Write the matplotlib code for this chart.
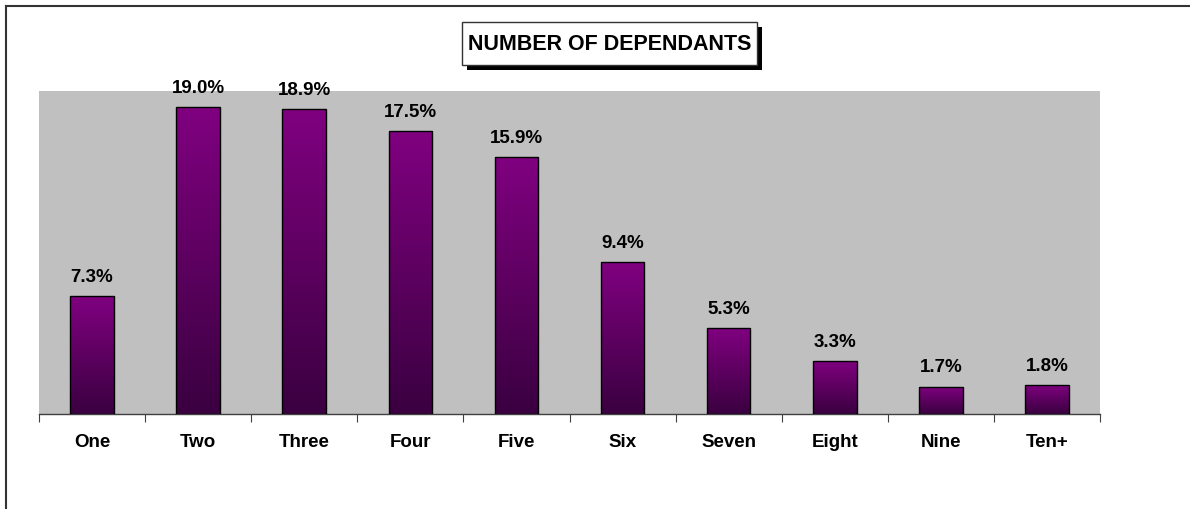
import numpy as np
import matplotlib.pyplot as plt
from matplotlib.colors import LinearSegmentedColormap
from matplotlib.patches import Rectangle
from matplotlib.lines import Line2D

plt.rcParams['font.family'] = ['Liberation Sans', 'DejaVu Sans']

categories = ["One", "Two", "Three", "Four", "Five", "Six", "Seven", "Eight", "Nine", "Ten+"]
percentages = [7.3, 19.0, 18.9, 17.5, 15.9, 9.4, 5.3, 3.3, 1.7, 1.8]
title_text = "NUMBER OF DEPENDANTS"

W, H = 1190, 510


def fx(px):
    return px / W


def fy(py):
    return 1 - py / H


fig = plt.figure(figsize=(11.9, 5.1), dpi=100)
ax = fig.add_axes([fx(39), fy(415), (1100 - 39) / W, (415 - 92) / H])
ax.set_facecolor("#C0C0C0")

# gradient from purple at top to dark plum at bottom
grad_cmap = LinearSegmentedColormap.from_list("plum", ["#3a0040", "#800080"])
gradient = np.linspace(0, 1, 256).reshape(-1, 1)

x = np.arange(len(categories))
bars = ax.bar(x, percentages, width=0.41, color="none", edgecolor="black", linewidth=1.0, zorder=3)
for bar in bars:
    bx, by = bar.get_x(), bar.get_y()
    bw, bh = bar.get_width(), bar.get_height()
    img = ax.imshow(gradient, cmap=grad_cmap, aspect="auto", origin="lower",
                    extent=[bx, bx + bw, by, by + bh], zorder=2)
    clip = Rectangle((bx, by), bw, bh, transform=ax.transData)
    img.set_clip_path(clip)

for xi, val in zip(x, percentages):
    ax.annotate(f"{val:.1f}%", (xi, val), xytext=(0, 8), textcoords="offset points",
                ha="center", va="bottom", fontsize=13.5, fontweight="bold")

ax.set_xlim(-0.5, len(categories) - 0.5)
ax.set_ylim(0, 20)

for side in ["top", "right", "left"]:
    ax.spines[side].set_visible(False)
ax.spines["bottom"].set_color("#404040")
ax.spines["bottom"].set_linewidth(1.0)

ax.set_yticks([])
ax.set_xticks(np.arange(-0.5, len(categories), 1.0))
ax.set_xticklabels([])
ax.tick_params(axis="x", which="major", direction="out", length=6, color="#404040")
ax.set_xticks(x, minor=True)
ax.set_xticklabels(categories, minor=True, fontsize=13.5, fontweight="bold")
ax.tick_params(axis="x", which="minor", length=0, pad=14)

# title box with drop shadow
fig.add_artist(Rectangle((fx(467), fy(71)), (762 - 467) / W, (71 - 28) / H,
                         transform=fig.transFigure, facecolor="black", edgecolor="none"))
fig.add_artist(Rectangle((fx(462), fy(66)), (757 - 462) / W, (66 - 23) / H,
                         transform=fig.transFigure, facecolor="white", edgecolor="#333333",
                         linewidth=1.0))
fig.text(fx(609.5), fy(44.5), title_text, ha="center", va="center",
         fontsize=15.5, fontweight="bold")

# outer frame (top and left edges visible)
fig.add_artist(Line2D([fx(5.5), 1], [fy(6.5), fy(6.5)], transform=fig.transFigure,
                      color="#333333", linewidth=1.5))
fig.add_artist(Line2D([fx(5.5), fx(5.5)], [0, fy(6.5)], transform=fig.transFigure,
                      color="#333333", linewidth=1.5))

fig.savefig("out.png", dpi=100)
